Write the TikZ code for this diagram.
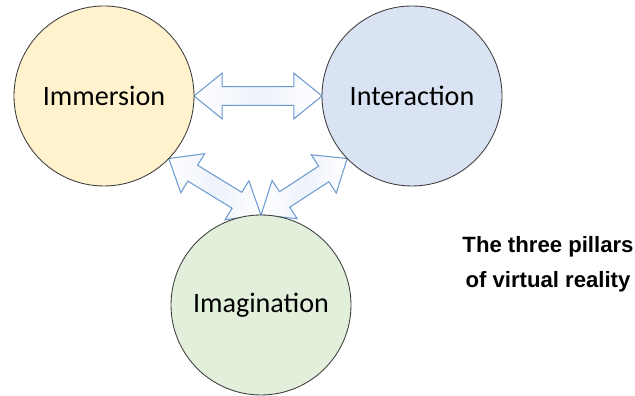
\documentclass[tikz,border=0pt]{standalone}
\usepackage{fontspec}
\setmainfont{Carlito}
\newfontfamily\titlefont{Liberation Sans}
\usetikzlibrary{calc}

\definecolor{immfill}{RGB}{255,242,204}
\definecolor{intfill}{RGB}{218,227,243}
\definecolor{imgfill}{RGB}{226,239,218}
\definecolor{pillarline}{RGB}{64,64,64}
\definecolor{arrowline}{RGB}{108,155,210}
\definecolor{arrowfill}{RGB}{238,242,250}

% block double arrow from one border point to another
\newcommand{\blockarrow}[2]{%
  \path[block arrow] let \p1=(#1), \p2=(#2),
    \n1={atan2(\y2-\y1,\x2-\x1)}, \n2={veclen(\x2-\x1,\y2-\y1)} in
    [shift={(\p1)}, rotate=\n1]
    (0,0) -- (16pt,13pt) -- (16pt,5.3pt) -- ({\n2*1pt-16pt},5.3pt) -- ({\n2*1pt-16pt},13pt)
    -- ({\n2*1pt},0) -- ({\n2*1pt-16pt},-13pt) -- ({\n2*1pt-16pt},-5.3pt)
    -- (16pt,-5.3pt) -- (16pt,-13pt) -- cycle;}

\begin{document}
\begin{tikzpicture}[pillar/.style={circle,draw=pillarline,line width=0.5pt,minimum size=3.6cm,font=\fontsize{16}{19}\selectfont},
  block arrow/.style={draw=arrowline,line width=0.6pt,line join=miter,left color=white,right color=white,middle color=arrowfill}]

	      \useasboundingbox (0,0) rectangle (12.7,7.92);

	      \coordinate (imm) at (2.08,6.0);
	      \coordinate (int) at (8.24,6.0);
	      \coordinate (img) at (5.22,1.82);

	      \blockarrow{$(imm)+(0:1.8)$}{$(int)+(180:1.8)$}
	      \blockarrow{$(imm)+(-44:1.8)$}{$(img)+(90:1.8)$}
	      \blockarrow{$(int)+(-136:1.8)$}{$(img)+(90:1.8)$}

	      \node[pillar, fill=immfill] at (imm) (immersion) {Immersion};
	      \node[pillar, fill=intfill] at (int) (interaction) {Interaction};
	      \node[pillar, fill=imgfill] at (img) (imagination) {Imagination};

	      \node[align=center, font=\titlefont\bfseries\fontsize{12.6}{20}\selectfont] at (10.96,2.63) (title) {The three pillars\\of virtual reality};

	    \end{tikzpicture}
\end{document}
